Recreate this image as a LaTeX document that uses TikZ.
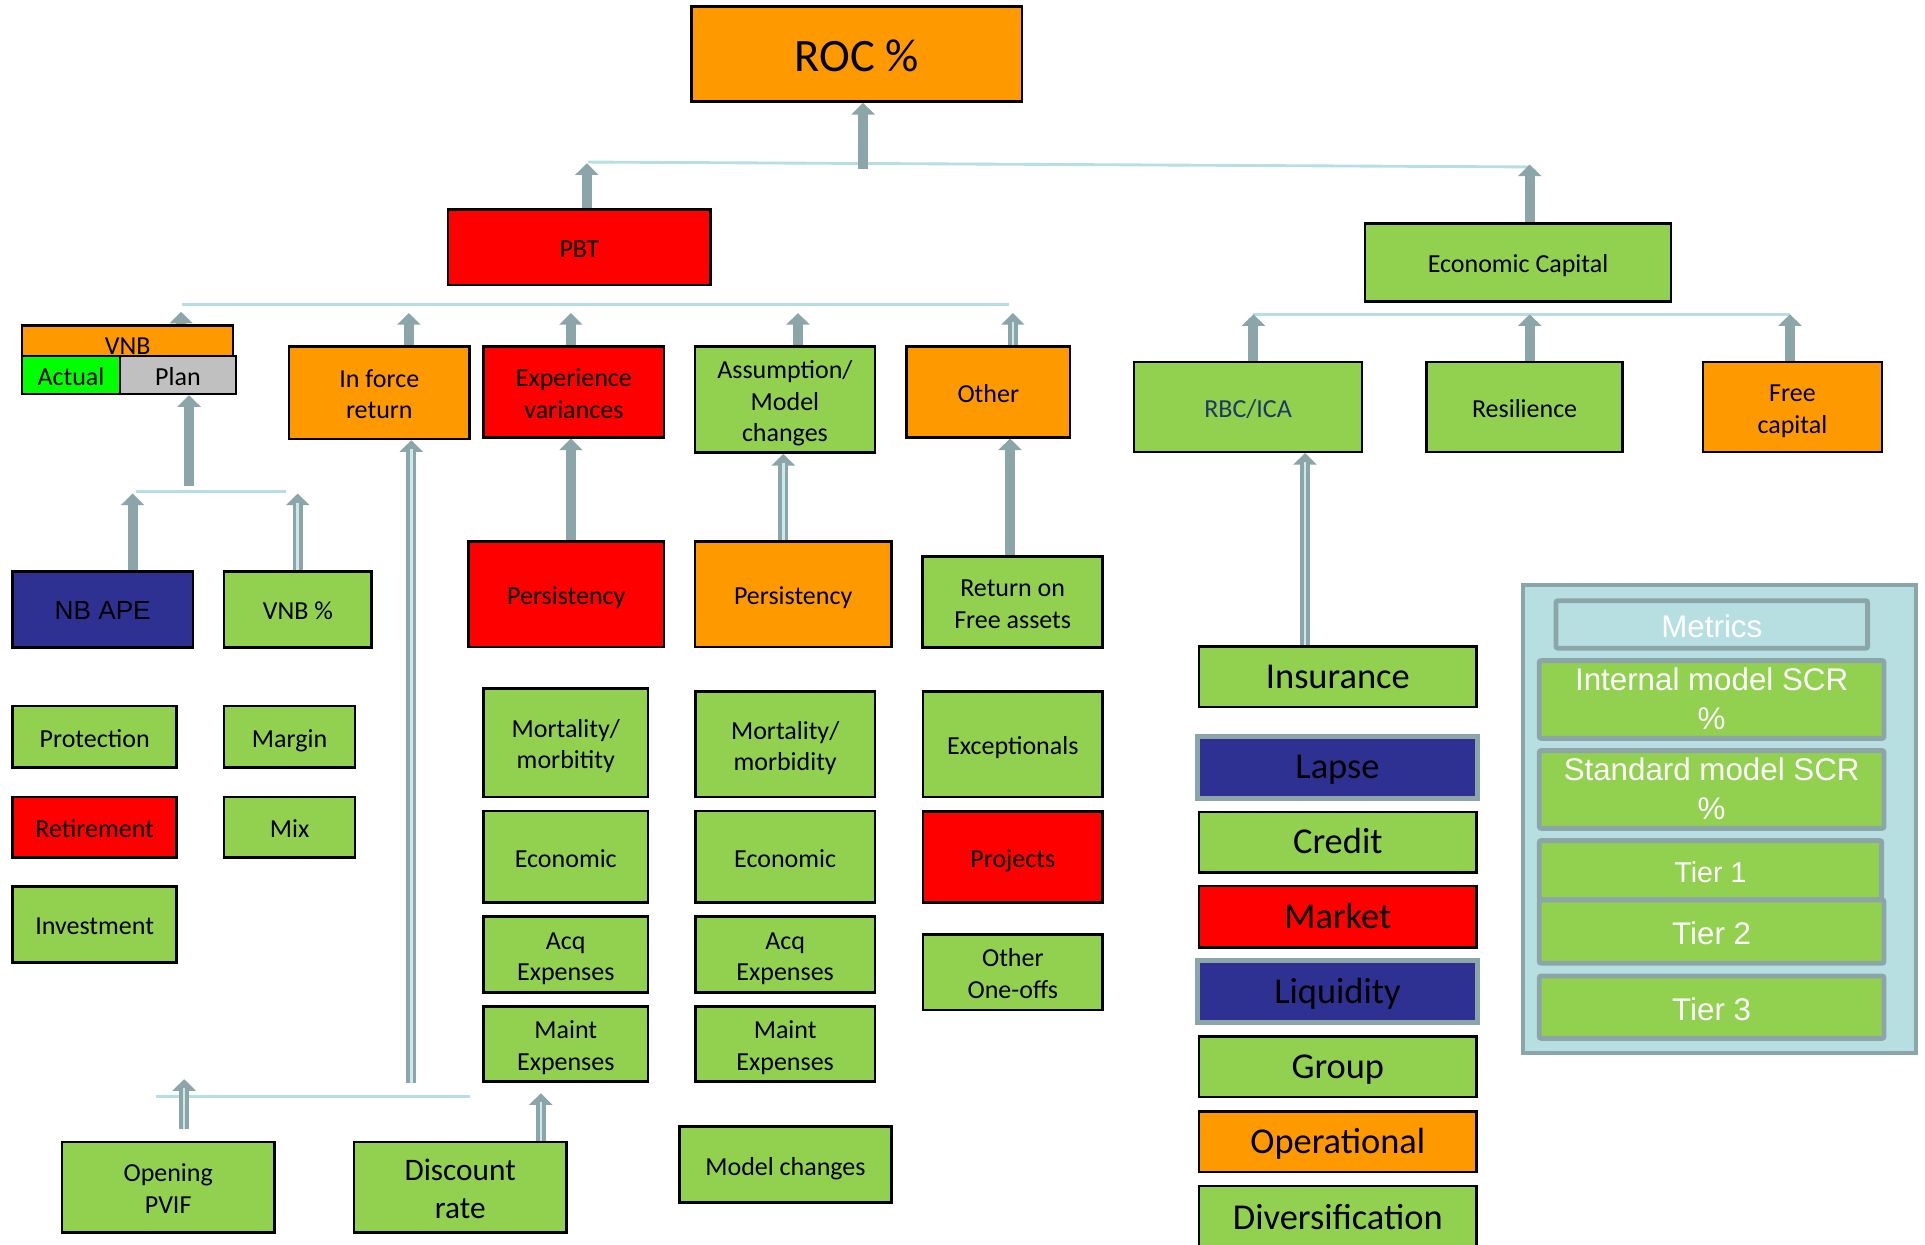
\documentclass[tikz,border=0pt]{standalone}
\usepackage{fontspec}
\setmainfont{Carlito}
\newfontfamily\arialfont{Liberation Sans}
\usetikzlibrary{arrows.meta}

\definecolor{cgreen}{RGB}{146,208,80}
\definecolor{corange}{RGB}{255,153,0}
\definecolor{cred}{RGB}{255,0,0}
\definecolor{cnavy}{RGB}{46,49,146}
\definecolor{cgrey}{RGB}{192,192,192}
\definecolor{clime}{RGB}{0,255,0}
\definecolor{arrowgrey}{RGB}{139,165,168}
\definecolor{linkblue}{RGB}{183,222,226}
\definecolor{panelblue}{RGB}{183,223,226}
\definecolor{textnavy}{RGB}{31,56,100}

% fixed height for the first line and fixed depth for the last one,
% so every label sits the same way in its box
\def\struth{1.05em}
\newcommand{\topstrut}{\rule{0pt}{\struth}}
\newcommand{\botstrut}{\rule[-0.25em]{0pt}{0.25em}}

% box given by its corners: style, name, x1, y1, x2, y2, text
\newcommand{\mkbox}[7]{%
  \node[#1, minimum width={(#5-#3)*0.6pt}, minimum height={(#6-#4)*0.6pt}]
    (#2) at ({(#3+#5)/2},{(#4+#6)/2}) {\topstrut#7\botstrut};}
% block arrow with a light core line
\newcommand{\hollowarrow}[2]{%
  \draw[barrow] #1 -- #2;
  \draw[barcore] #1 -- #2;}

\tikzset{
  strut height/.store in=\struth,
  box/.style={draw=black, line width=1.2pt, inner sep=1pt, align=center,
    text=black, font=\fontsize{12.7}{15.3}\selectfont, strut height=1.05em},
  gbox/.style={box, fill=cgreen},
  obox/.style={box, fill=corange},
  rbox/.style={box, fill=cred},
  riskbox/.style={box, font=\fontsize{17.8}{20}\selectfont, strut height=0.89em},
  riskgrey/.style={riskbox, draw=arrowgrey, line width=2.4pt, fill=cnavy},
  panel/.style={draw=arrowgrey, line width=2pt, fill=panelblue},
  metricbox/.style={box, draw=arrowgrey, line width=2.4pt, fill=cgreen,
    rounded corners=1pt, text=white, strut height=1.09em,
    font=\arialfont\fontsize{15.3}{18.7}\selectfont},
  metrictwo/.style={metricbox, strut height=0.92em, inner ysep=0pt},
  link/.style={draw=linkblue, line width=1.4pt},
  barrow/.style={draw=arrowgrey, line width=4.9pt,
    -{Triangle[width=11.2pt,length=5.7pt]}},
  barcore/.style={draw=linkblue!70!white, line width=1.2pt, shorten >=4.5pt},
}

\begin{document}
\begin{tikzpicture}[x=0.6pt, y=-0.6pt]
\useasboundingbox (0,0) rectangle (1568,1014);

% ---------- connector lines ----------
\coordinate (l1a) at (479,132);
\coordinate (l1b) at (1247,136);
\coordinate (l2a) at (148,248);
\coordinate (l2b) at (822,248);
\coordinate (l3a) at (1021,256);
\coordinate (l3b) at (1458,256);
\coordinate (l4a) at (111,400.5);
\coordinate (l4b) at (233,400.5);
\coordinate (l5a) at (127,893);
\coordinate (l5b) at (383,893);
\draw[link] (l1a) -- (l1b);
\draw[link] (l2a) -- (l2b);
\draw[link] (l3a) -- (l3b);
\draw[link] (l4a) -- (l4b);
\draw[link] (l5a) -- (l5b);

% ---------- top ----------
\mkbox{obox, font=\fontsize{22.7}{26}\selectfont, strut height=1.0em}{roc}{563.3}{5.4}{832.3}{82.8}{ROC \%}
\mkbox{rbox}{pbt}{365}{170.5}{578.8}{232}{PBT}
\mkbox{gbox}{ec}{1112}{182}{1361}{245.7}{Economic Capital}

% ---------- PBT children ----------
\mkbox{obox}{vnb}{17.9}{268.2}{190}{292.7}{VNB}
\mkbox{box, fill=clime}{act}{17.9}{292.7}{97.7}{318.2}{Actual}
\mkbox{box, fill=cgrey}{plan}{97.7}{292.7}{192.2}{318.2}{Plan}
\mkbox{obox}{ifr}{235.3}{282.4}{382.6}{357.6}{In force\\return}
\mkbox{rbox}{exp}{393.9}{282.4}{541}{356.2}{Experience\\variances}
\mkbox{gbox}{asm}{566.1}{282.4}{712.6}{368.7}{Assumption/\\Model\\changes}
\mkbox{obox}{oth}{738.5}{282.4}{871.5}{356.2}{Other}

% ---------- Economic Capital children ----------
\mkbox{gbox, text=textnavy}{rbc}{923.7}{295}{1109.5}{368}{RBC/ICA}
\mkbox{gbox}{res}{1162}{295}{1321.7}{368}{Resilience}
\mkbox{obox}{fc}{1387}{295}{1533}{368}{Free\\capital}

% ---------- VNB drivers ----------
\mkbox{box, fill=cnavy, font=\arialfont\fontsize{12.8}{15}\selectfont}{ape}{10.3}{465.6}{157}{527.3}{NB APE}
\mkbox{gbox}{vnbp}{182.5}{465.6}{302.7}{527.3}{VNB \%}
\mkbox{gbox}{prot}{10.3}{575}{143.9}{625.3}{Protection}
\mkbox{gbox}{marg}{182.5}{575}{289.2}{625.3}{Margin}
\mkbox{rbox}{ret}{10.3}{649}{143.9}{698.3}{Retirement}
\mkbox{gbox}{mix}{182.5}{649}{289.2}{698.3}{Mix}
\mkbox{gbox}{inv}{10.3}{722.2}{143.9}{784}{Investment}

% ---------- variance drivers ----------
\mkbox{rbox}{pers1}{381.6}{441.2}{541}{527}{Persistency}
\mkbox{obox}{pers2}{566.1}{441.2}{726}{527}{Persistency}
\mkbox{gbox}{rfa}{751.5}{453.4}{898.2}{527.3}{Return on\\Free assets}

\mkbox{gbox}{mort1}{393.7}{560.7}{528}{649.4}{Mortality/\\morbitity}
\mkbox{gbox}{eco1}{393.7}{660.6}{528}{735}{Economic}
\mkbox{gbox}{acq1}{393.7}{746.7}{528}{808.3}{Acq\\Expenses}
\mkbox{gbox}{mnt1}{393.7}{820}{528}{881}{Maint\\Expenses}

\mkbox{gbox}{mort2}{566.4}{563.4}{712.7}{649.4}{Mortality/\\morbidity}
\mkbox{gbox}{eco2}{566.4}{660.6}{712.7}{735}{Economic}
\mkbox{gbox}{acq2}{566.4}{746.7}{712.7}{808.3}{Acq\\Expenses}
\mkbox{gbox}{mnt2}{566.4}{820}{712.7}{881}{Maint\\Expenses}
\mkbox{gbox}{mdl}{553.3}{917.7}{726.3}{979.6}{Model changes}

\mkbox{gbox}{excp}{752}{563.4}{898}{649}{Exceptionals}
\mkbox{rbox}{proj}{752}{661}{898}{735}{Projects}
\mkbox{gbox}{oneoff}{752}{761}{898}{822.7}{Other\\One-offs}

\mkbox{gbox}{pvif}{50.5}{930}{223.5}{1004}{Opening\\PVIF}
\mkbox{gbox, font=\fontsize{15.3}{18.5}\selectfont}{dr}{288.3}{930}{461.4}{1004}{Discount\\rate}

% ---------- risk types ----------
\mkbox{riskbox, fill=cgreen}{ins}{976.6}{526.7}{1202.8}{575.8}{Insurance}
\mkbox{riskgrey}{lapse}{975.3}{599.8}{1203.6}{650.2}{Lapse}
\mkbox{riskbox, fill=cgreen}{cred}{976.6}{661.5}{1202.8}{710.5}{Credit}
\mkbox{riskbox, fill=cred}{mkt}{976.6}{721.8}{1202.8}{771.9}{Market}
\mkbox{riskgrey}{liq}{975.3}{782.6}{1203.6}{832.9}{Liquidity}
\mkbox{riskbox, fill=cgreen}{grp}{976.6}{844.3}{1202.8}{893.6}{Group}
\mkbox{riskbox, fill=corange}{ops}{976.6}{905.3}{1202.8}{954.6}{Operational}
\mkbox{riskbox, fill=cgreen}{div}{976.6}{966}{1202.8}{1018}{Diversification}

% ---------- metrics panel ----------
\mkbox{panel}{metrics}{1240.3}{476.5}{1561}{858}{}
\mkbox{metricbox, fill=panelblue}{mtitle}{1267.4}{489.3}{1521.3}{528}{Metrics}
\mkbox{metrictwo}{imscr}{1253.8}{538.1}{1534.6}{601.4}{Internal model SCR\\\%}
\mkbox{metrictwo}{smscr}{1253.8}{611.4}{1534.6}{674.7}{Standard model SCR\\\%}
\mkbox{metricbox, font=\arialfont\fontsize{14}{16}\selectfont}{tier1}{1253.8}{684.7}{1532.7}{733}{Tier 1}
\mkbox{metricbox}{tier2}{1253.8}{733}{1534.6}{784.6}{Tier 2}
\mkbox{metricbox}{tier3}{1253.8}{795}{1534.6}{845.8}{Tier 3}

% ---------- arrow end points on the lines ----------
\coordinate (roc-in) at (703,138);
\coordinate (pbt-out) at (478,133);
\coordinate (ec-out) at (1246,134);
\coordinate (vnb-out) at (147.5,254);
\coordinate (ifr-out) at (333,255);
\coordinate (exp-out) at (465,255);
\coordinate (asm-out) at (650,255);
\coordinate (oth-out) at (825,255);
\coordinate (rbc-out) at (1021,256);
\coordinate (res-out) at (1246,256);
\coordinate (fc-out) at (1458,256);
\coordinate (vnb-in) at (154,396);
\coordinate (ape-out) at (108,402);
\coordinate (vnbp-out) at (242.5,402);
\coordinate (ifr-in) at (335,882);
\coordinate (pvif-base) at (150,920);
\coordinate (pvif-out) at (150,879);
\coordinate (dr-out) at (440.5,890.5);

% ---------- arrows ----------
\draw[barrow] (roc-in) -- (roc-in |- roc.south);
\draw[barrow] (pbt-out |- pbt.north) -- (pbt-out);
\draw[barrow] (ec-out |- ec.north) -- (ec-out);

\draw[barrow] (vnb-out |- vnb.north) -- (vnb-out);
\draw[barrow] (ifr-out |- ifr.north) -- (ifr-out);
\draw[barrow] (exp-out |- exp.north) -- (exp-out);
\draw[barrow] (asm-out |- asm.north) -- (asm-out);
\hollowarrow{(oth-out |- oth.north)}{(oth-out)}

\draw[barrow] (rbc-out |- rbc.north) -- (rbc-out);
\draw[barrow] (res-out |- res.north) -- (res-out);
\draw[barrow] (fc-out |- fc.north) -- (fc-out);

\draw[barrow] (vnb-in) -- (vnb-in |- plan.south);
\draw[barrow] (ape-out |- ape.north) -- (ape-out);
\hollowarrow{(vnbp-out |- vnbp.north)}{(vnbp-out)}

\hollowarrow{(ifr-in)}{(ifr-in |- ifr.south)}
\draw[barrow] (465,0 |- pers1.north) -- (465,0 |- exp.south);
\hollowarrow{(638,0 |- pers2.north)}{(638,0 |- asm.south)}
\draw[barrow] (822.7,0 |- rfa.north) -- (822.7,0 |- oth.south);
\hollowarrow{(1063,0 |- ins.north)}{(1063,0 |- rbc.south)}

\hollowarrow{(pvif-base)}{(pvif-out)}
\hollowarrow{(dr-out |- dr.north)}{(dr-out)}
\end{tikzpicture}
\end{document}
